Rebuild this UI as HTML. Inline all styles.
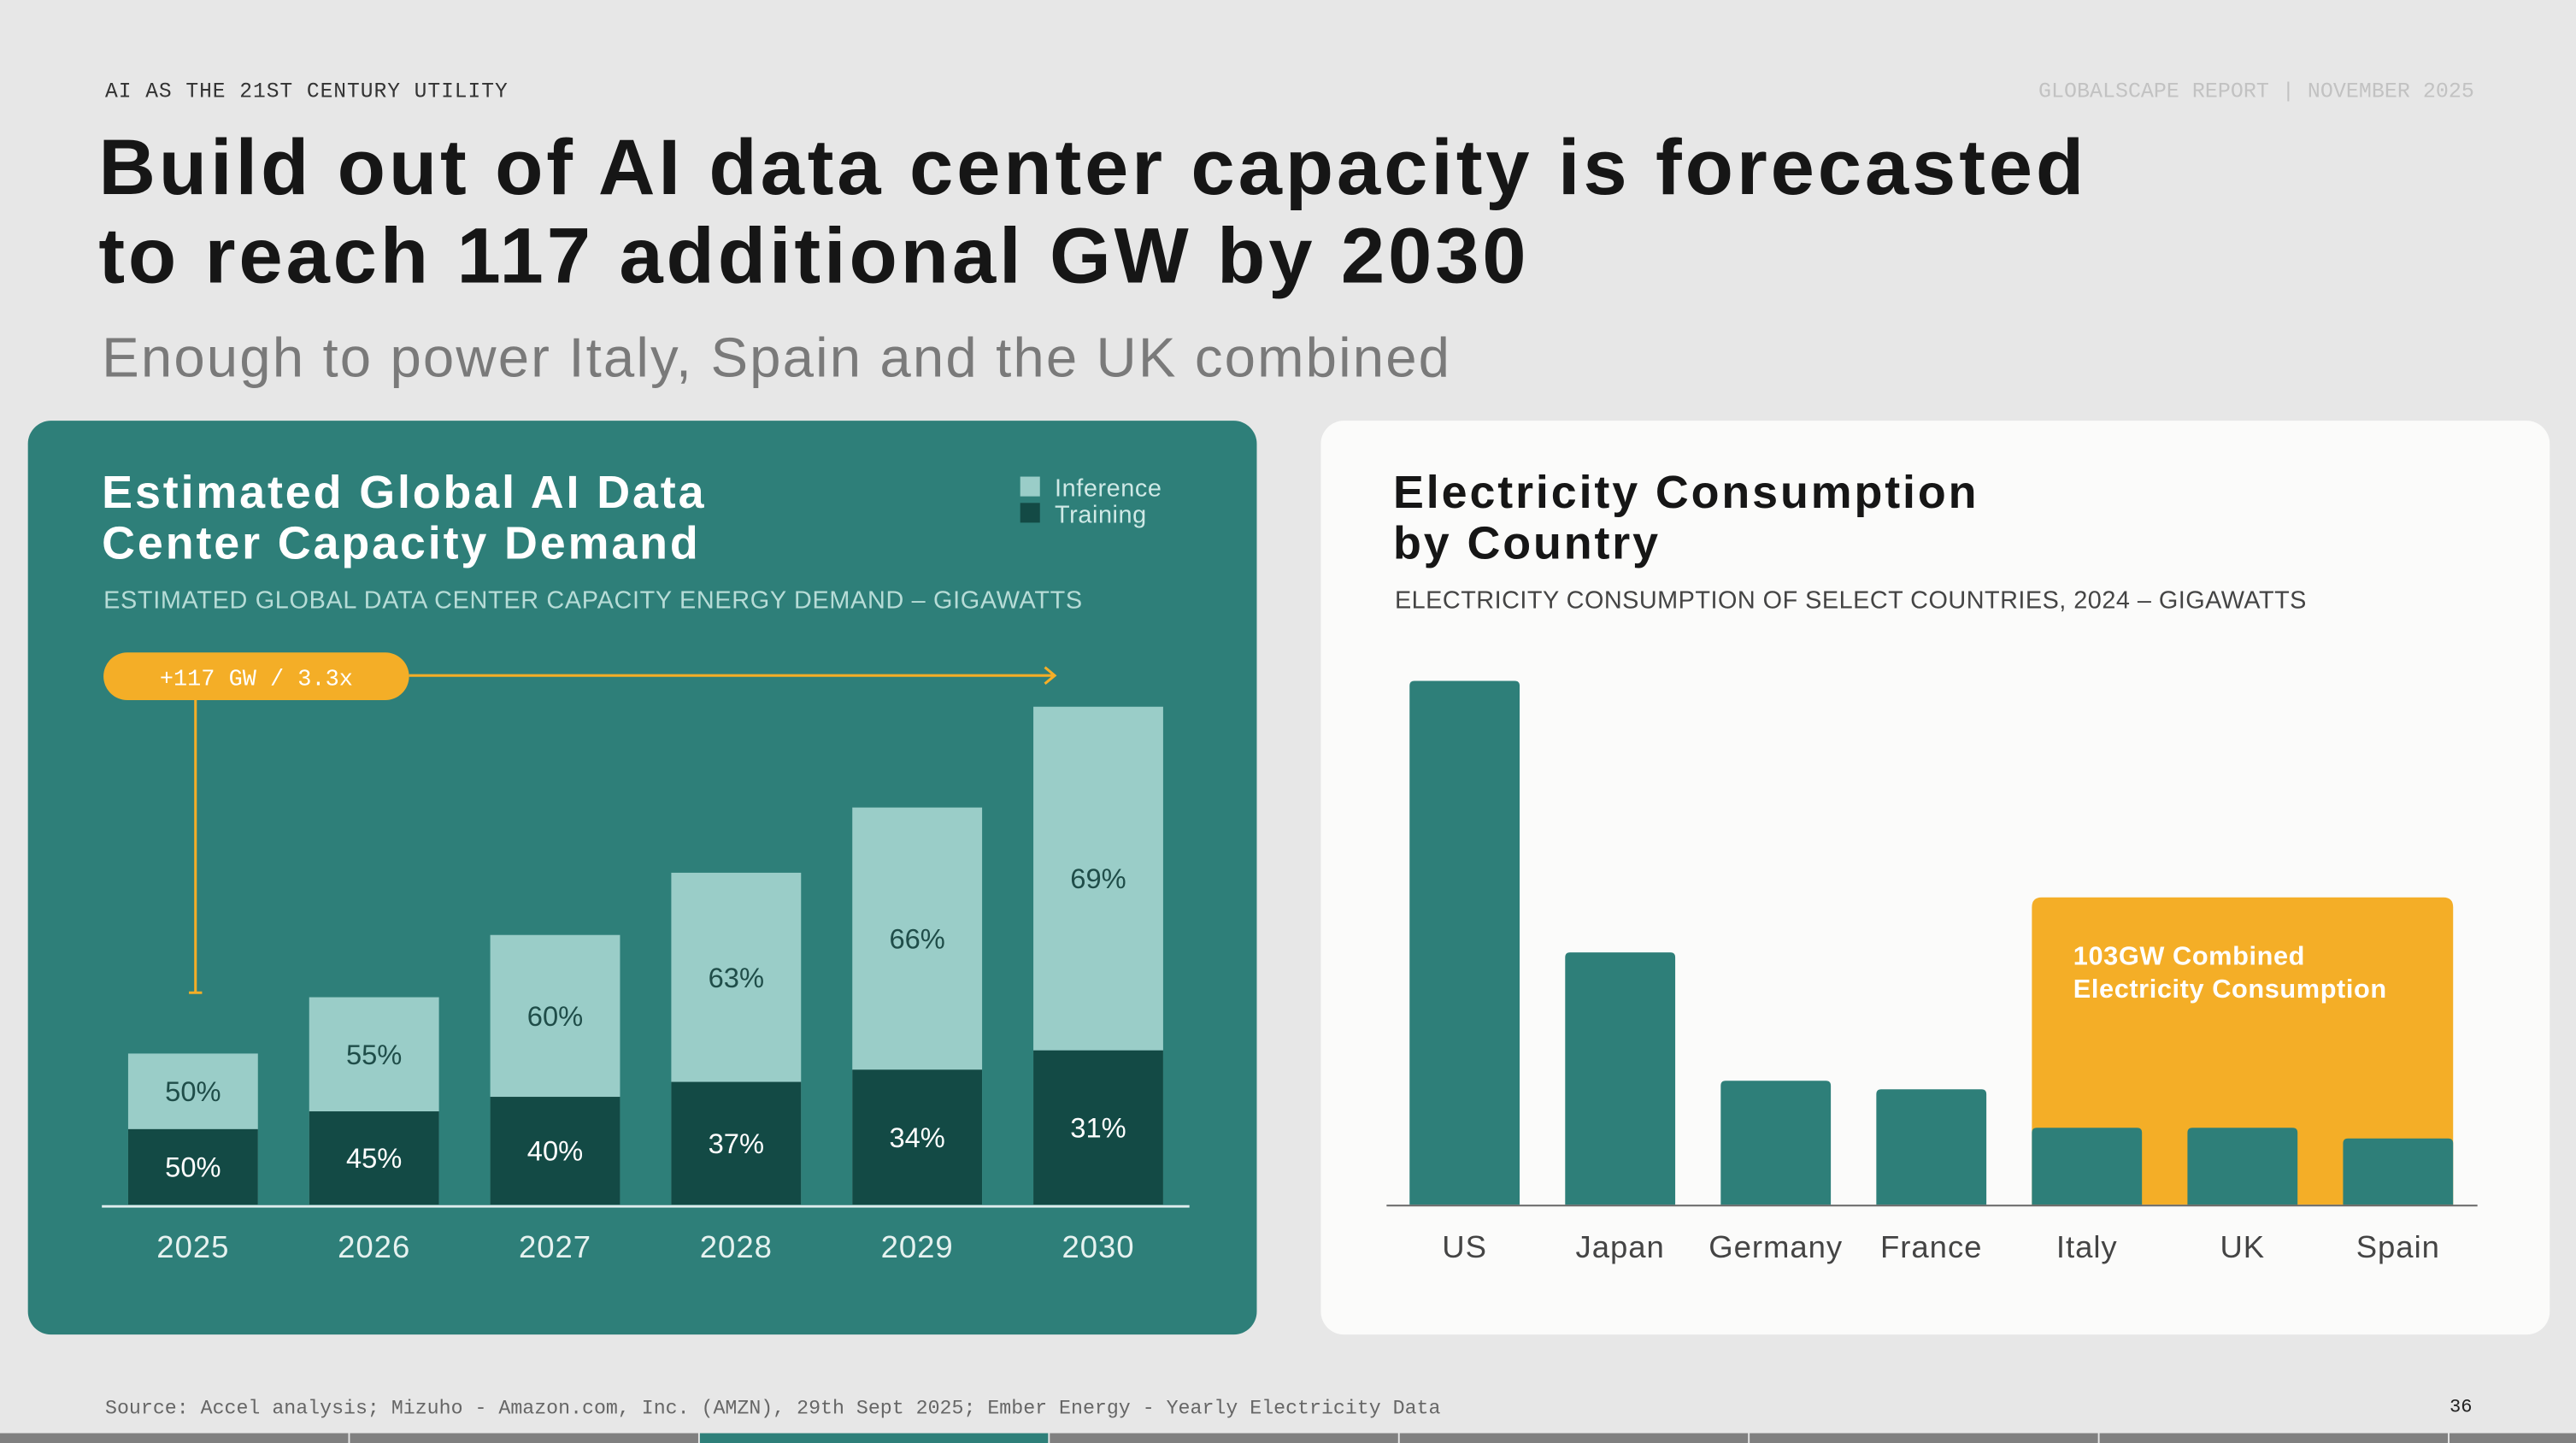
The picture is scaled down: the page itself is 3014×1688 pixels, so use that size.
<!DOCTYPE html>
<html><head><meta charset="utf-8"><style>
html,body{margin:0;padding:0;width:3014px;height:1688px;overflow:hidden;background:#e7e7e7}
#w{position:absolute;left:0;top:0;width:1568px;height:878px;overflow:hidden;transform:scale(1.9222,1.9226);transform-origin:0 0;font-family:"Liberation Sans",sans-serif}
.a{position:absolute;white-space:nowrap}
.mono{font-family:"Liberation Mono",monospace}
</style></head><body><div id="w">
<div class="a mono" style="left:64px;top:48px;font-size:12.8px;color:#333;letter-spacing:.5px">AI AS THE 21ST CENTURY UTILITY</div>
<div class="a mono" style="right:62px;top:48px;font-size:13px;color:#c2c2c2">GLOBALSCAPE REPORT | NOVEMBER 2025</div>
<div class="a" style="left:60px;top:76px;font-size:48px;font-weight:bold;line-height:54px;color:#161616;letter-spacing:2px">Build out of AI data center capacity is forecasted<br>to reach 117 additional GW by 2030</div>
<div class="a" style="left:62px;top:199px;font-size:34px;color:#7a7a7a;letter-spacing:1.1px">Enough to power Italy, Spain and the UK combined</div>

<div class="a" style="left:17px;top:256px;width:748px;height:556px;background:#2e7f79;border-radius:14px"></div>
<div class="a" style="left:62px;top:284px;font-size:28px;font-weight:bold;line-height:31px;color:#fff;letter-spacing:1.5px">Estimated Global AI Data<br>Center Capacity Demand</div>
<div class="a" style="left:63px;top:357px;font-size:15px;color:#b7dcd7;letter-spacing:.35px">ESTIMATED GLOBAL DATA CENTER CAPACITY ENERGY DEMAND – GIGAWATTS</div>
<div class="a" style="left:621px;top:289px;font-size:15px;color:#cfe9e6;letter-spacing:.3px"><span style="display:inline-block;width:12px;height:12px;background:#9acdc8;margin-right:9px"></span>Inference</div>
<div class="a" style="left:621px;top:305px;font-size:15px;color:#cfe9e6;letter-spacing:.3px"><span style="display:inline-block;width:12px;height:12px;background:#134a45;margin-right:9px"></span>Training</div>

<div class="a" style="left:804px;top:256px;width:748px;height:556px;background:#fbfbfa;border-radius:14px"></div>
<div class="a" style="left:848px;top:284px;font-size:28px;font-weight:bold;line-height:31px;color:#161616;letter-spacing:1.5px">Electricity Consumption<br>by Country</div>
<div class="a" style="left:849px;top:357px;font-size:15px;color:#444;letter-spacing:.25px">ELECTRICITY CONSUMPTION OF SELECT COUNTRIES, 2024 – GIGAWATTS</div>

<svg class="a" style="left:0;top:0" width="1568" height="878" id="svg"></svg>

<div class="a mono" style="left:64px;top:850px;font-size:12.1px;color:#666">Source: Accel analysis; Mizuho - Amazon.com, Inc. (AMZN), 29th Sept 2025; Ember Energy - Yearly Electricity Data</div>
<div class="a mono" style="left:1491px;top:850px;font-size:11.5px;color:#222">36</div>
<div id="nav"></div>
</div>
<script>
const years=["2025","2026","2027","2028","2029","2030"];
const totalGW=[51,70,91,112,134,168];
const trainingPct=[50,45,40,37,34,31];
const inferencePct=[50,55,60,63,66,69];
const countries=["US","Japan","Germany","France","Italy","UK","Spain"];
const consumptionGW=[245,118,58,54,36,36,31];
const highlighted=["Italy","UK","Spain"];

const NS="http://www.w3.org/2000/svg";
const svg=document.getElementById('svg');
function mk(t,at,txt){const e=document.createElementNS(NS,t);for(const k in at)e.setAttribute(k,at[k]);if(txt!=null)e.textContent=txt;svg.appendChild(e);return e;}

const base=733, pxPerGW=303/168;
const xL=i=>78+i*110.2, bwL=79;
const yL=v=>base-v*pxPerGW;
years.forEach((y,i)=>{
  const tot=totalGW[i], tr=tot*trainingPct[i]/100;
  const x=xL(i);
  let r=mk('rect',{x:x,y:yL(tot),width:bwL,height:base-yL(tot),fill:'#9acdc8'});
  
  
  r=mk('rect',{x:x,y:yL(tr),width:bwL,height:base-yL(tr),fill:'#134a45'});
  
  
  let t=mk('text',{x:x+bwL/2,y:(yL(tot)+yL(tr))/2+6,'text-anchor':'middle','font-size':17,fill:'#1f4d49','font-family':'Liberation Sans'},inferencePct[i]+'%');
  
  
  t=mk('text',{x:x+bwL/2,y:(yL(tr)+base)/2+6,'text-anchor':'middle','font-size':17,fill:'#fff','font-family':'Liberation Sans'},trainingPct[i]+'%');
  
  
  t=mk('text',{x:x+bwL/2,y:765,'text-anchor':'middle','font-size':19,fill:'#e6f2f0','font-family':'Liberation Sans','letter-spacing':0.5},y);
  
  
});
let l=mk('line',{x1:62,x2:724,y1:base+1,y2:base+1,stroke:'#dfeeee','stroke-width':1.5});


l=mk('path',{d:'M249 411 H642 M636 406 L642 411 L636 416 M119 426 V604 M115 604 H123',stroke:'#f4ae27','stroke-width':1.6,fill:'none'});


l=mk('rect',{x:63,y:397,width:186,height:29,rx:14.5,fill:'#f4ae27'});


l=mk('text',{x:156,y:417,'text-anchor':'middle','font-size':14,fill:'#fff','font-family':'Liberation Mono'},'+117 GW / 3.3x');



const pxR=134/103;
const xR=i=>858+i*94.7, bwR=67;
const yR=v=>base-v*pxR;
const hi=countries.map((c,i)=>highlighted.includes(c)?i:-1).filter(i=>i>=0);
const hx0=xR(hi[0]), hx1=xR(hi[hi.length-1])+bwR;
l=mk('path',{d:`M${hx0} ${base} V552 Q${hx0} 546 ${hx0+6} 546 H${hx1-6} Q${hx1} 546 ${hx1} 552 V${base} Z`,fill:'#f4ae27'});


l=mk('text',{x:1262,y:587,'font-size':16,'font-weight':'bold',fill:'#fff','font-family':'Liberation Sans','letter-spacing':0.3},'103GW Combined');


l=mk('text',{x:1262,y:607,'font-size':16,'font-weight':'bold',fill:'#fff','font-family':'Liberation Sans','letter-spacing':0.3},'Electricity Consumption');


countries.forEach((c,i)=>{
  const x=xR(i), y=yR(consumptionGW[i]);
  let r=mk('path',{d:`M${x} ${base} V${y+3} Q${x} ${y} ${x+3} ${y} H${x+bwR-3} Q${x+bwR} ${y} ${x+bwR} ${y+3} V${base} Z`,fill:'#2e7f79'});
  
  
  let t=mk('text',{x:x+bwR/2,y:765,'text-anchor':'middle','font-size':19,fill:'#444','font-family':'Liberation Sans','letter-spacing':0.5},c);
  
  
});
l=mk('line',{x1:844,x2:1508,y1:base+0.5,y2:base+0.5,stroke:'#666','stroke-width':1});



const nav=document.getElementById('nav');
for(let i=0;i<8;i++){
  const d=document.createElement('div');
  d.className='a';
  
  
  d.style.cssText=`left:${i*213}px;top:872px;width:${i==7?1568-i*213:212}px;height:6px;background:${i==2?'#2e7f79':'#808080'}`;
  nav.appendChild(d);
}
</script>
</body></html>
